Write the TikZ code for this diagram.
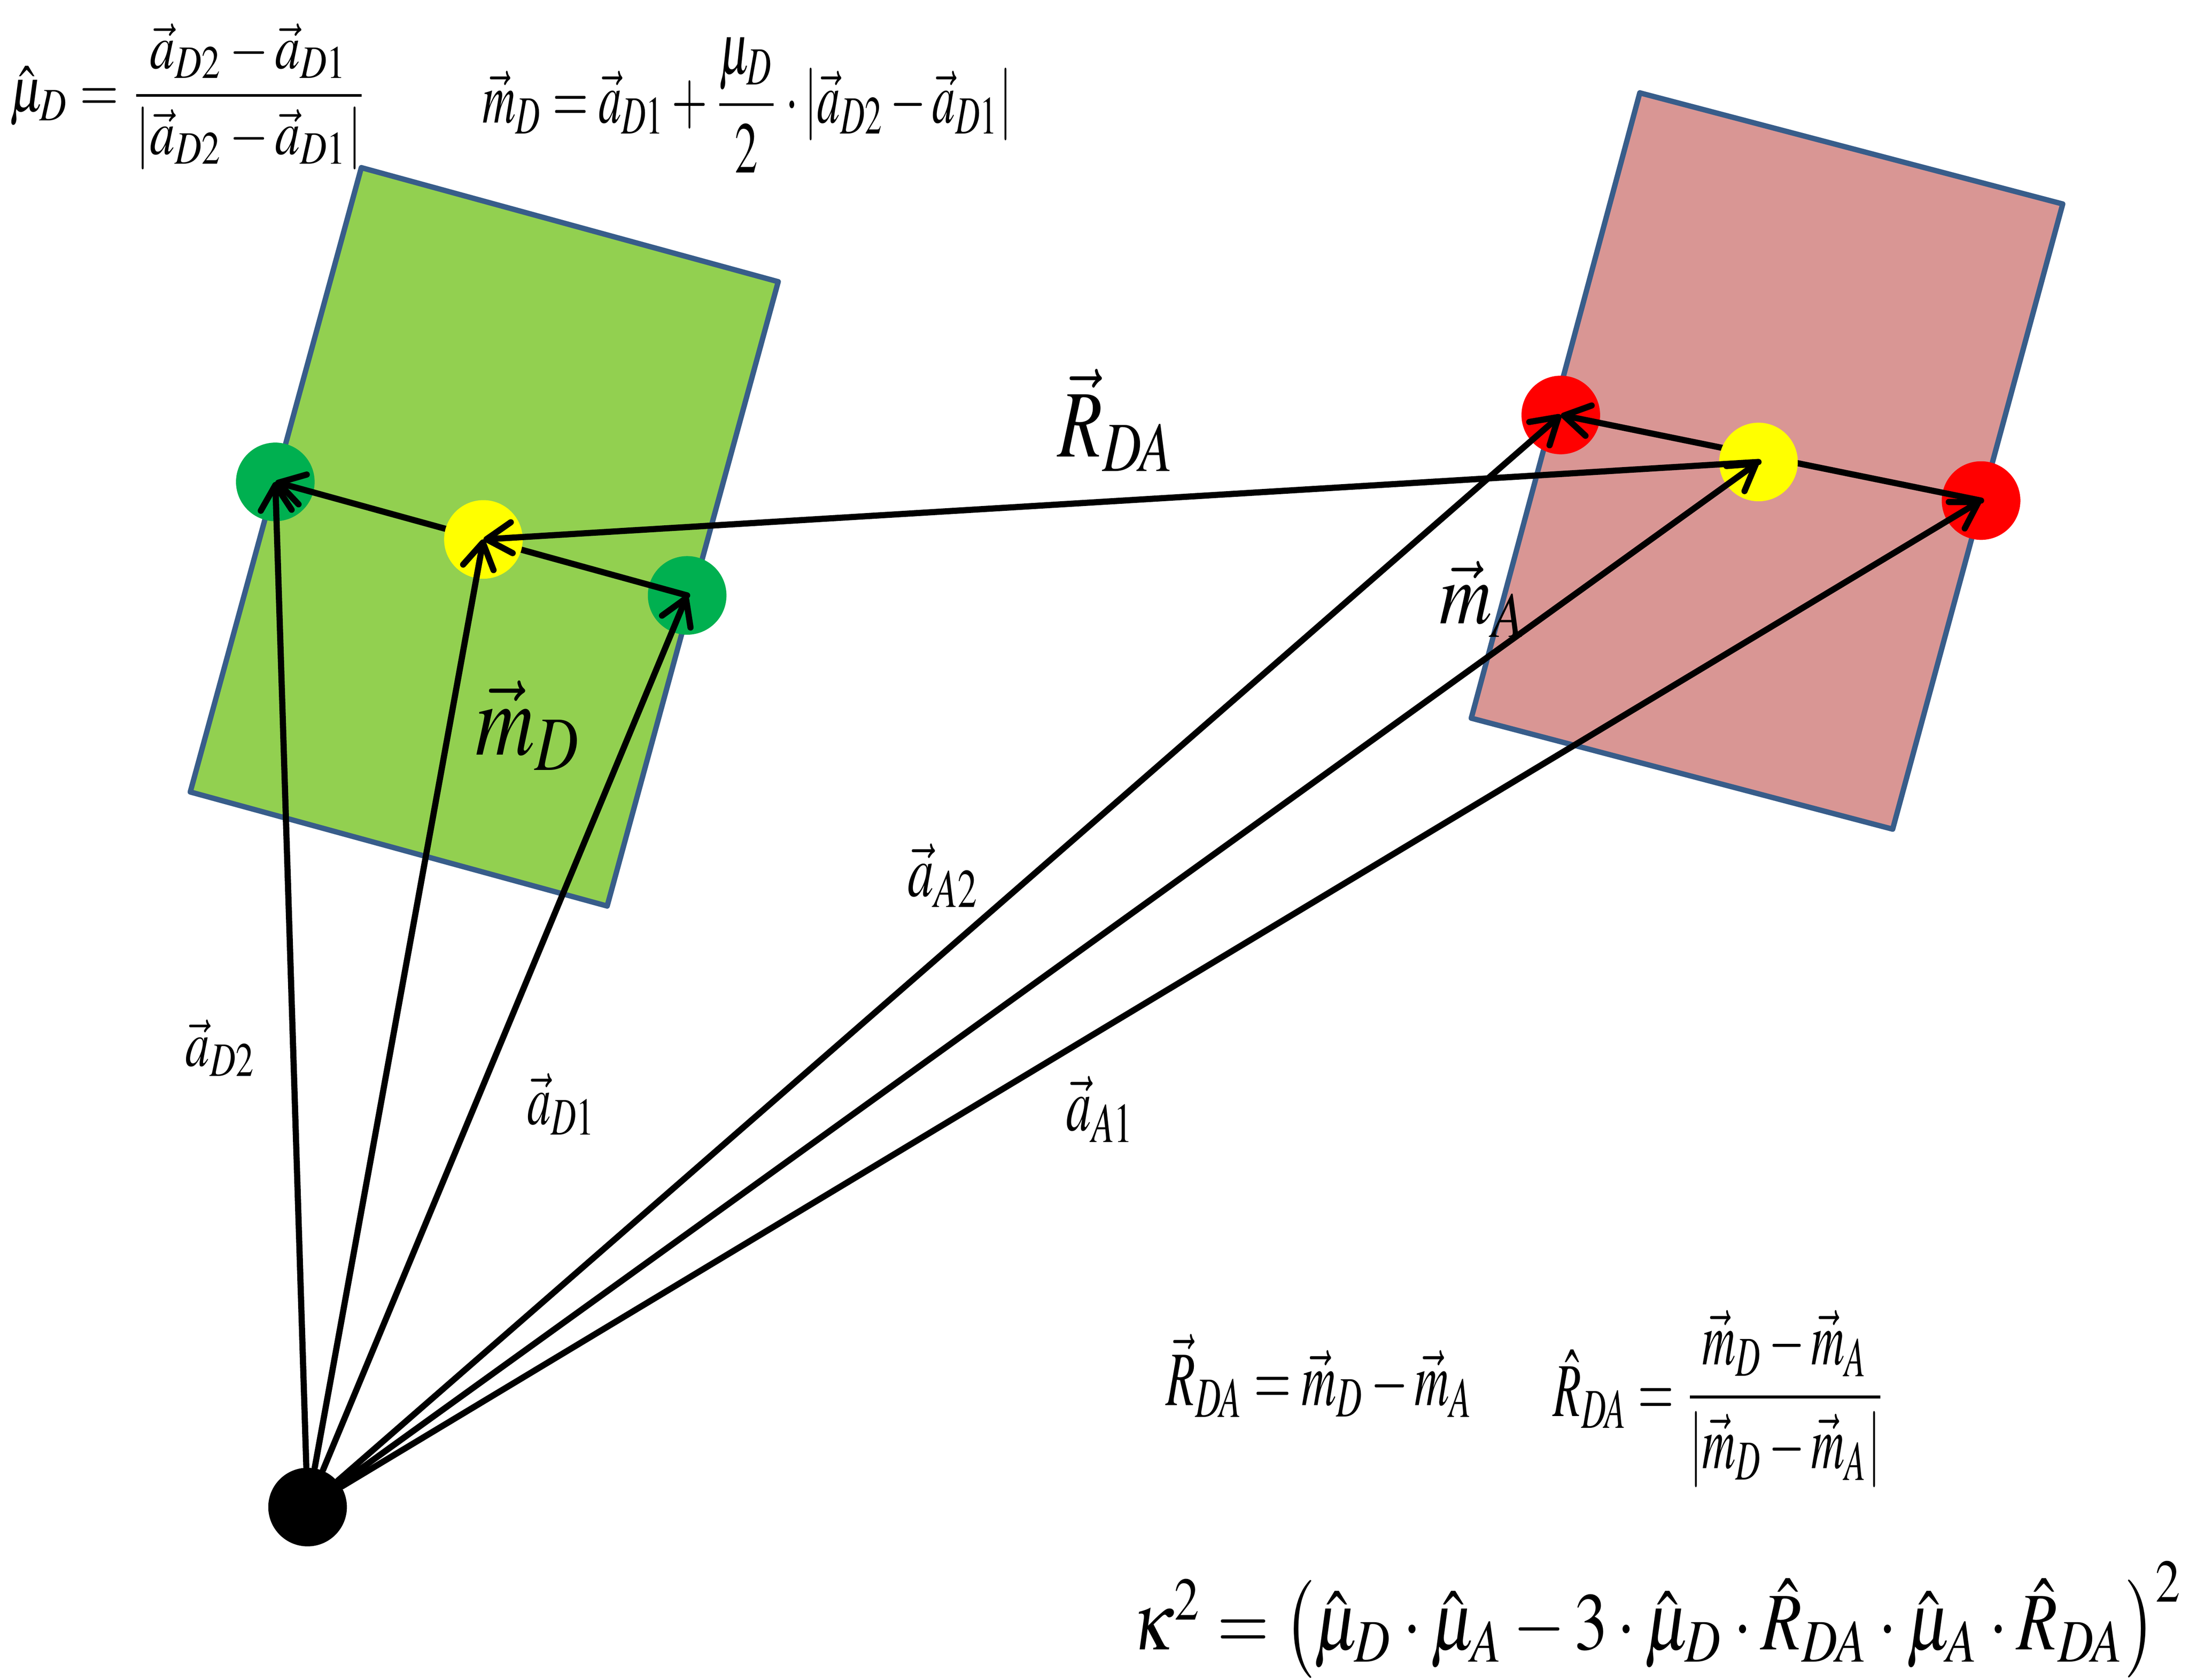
\documentclass[tikz,border=0pt]{standalone}
\usepackage{amsmath}
\usepackage{mathptmx}
\usepackage{graphicx}
\usetikzlibrary{arrows.meta}
\definecolor{rectline}{RGB}{56,93,138}
\definecolor{plategreen}{RGB}{146,208,80}
\definecolor{platepink}{RGB}{217,150,148}
\definecolor{dotgreen}{RGB}{0,176,80}
\definecolor{dotred}{RGB}{255,0,0}
\definecolor{dotyellow}{RGB}{255,255,0}
\begin{document}
\begin{tikzpicture}[x=0.01cm,y=-0.01cm,
  ball/.style={circle,inner sep=0pt,minimum size=0.56cm},
  arr/.style={line width=0.044cm,line cap=round,-{Straight Barb[length=0.18cm,width=0.22cm,round]}},
  plate/.style={draw=rectline,line width=0.038cm,line join=round},
  lbl/.style={inner sep=0pt,outer sep=0pt}]
\useasboundingbox (0,0) rectangle (1560,1197.4);
\fill[white] (0,0) rectangle (1560,1197.4);
% plates
\filldraw[plate,fill=plategreen] (257.5,119.5) -- (554.6,200.8) -- (432.7,645.8) -- (135.6,564.5) -- cycle;
\filldraw[plate,fill=platepink] (1168.6,66.2) -- (1470,145.4) -- (1348.8,591) -- (1048.5,511.9) -- cycle;
% end dots
\node[ball,fill=dotgreen] (G1) at (196.2,343.5) {};
\node[ball,fill=dotgreen] (G2) at (489.7,424.4) {};
\node[ball,fill=dotred] (R1) at (1112.3,295.8) {};
\node[ball,fill=dotred] (R2) at (1411.8,356.8) {};
% dipole vectors
\draw[arr] (G2.center) -- (G1.center);
\draw[arr] (R2.center) -- (R1.center);
% centre dots
\node[ball,fill=dotyellow] (YD) at (344.5,384.5) {};
\node[ball,fill=dotyellow] (YA) at (1253.2,329.3) {};
% origin
\node[ball,fill=black] (O) at (219.2,1074.2) {};
% connecting vector
\draw[arr] (YA.center) -- (YD.center);
% position vectors
\draw[arr] (O) -- (G1.center);
\draw[arr] (O) -- (YD.center);
\draw[arr] (O) -- (G2.center);
\draw[arr] (O) -- (R1.center);
\draw[arr] (O) -- (YA.center);
\draw[arr] (O) -- (R2.center);
% labels
\node[lbl] (fmuD) at (134.5,69) {\resizebox*{2.55cm}{1.04cm}{$\hat{\mu}_D=\dfrac{\vec{a}_{D2}-\vec{a}_{D1}}{\left|\vec{a}_{D2}-\vec{a}_{D1}\right|}$}};
\node[lbl] (fmD) at (532.5,75) {\resizebox*{3.77cm}{0.96cm}{$\vec{m}_D=\vec{a}_{D1}+\dfrac{\mu_D}{2}\cdot\left|\vec{a}_{D2}-\vec{a}_{D1}\right|$}};
\node[lbl] (lRDA) at (796,299.5) {\resizebox*{0.84cm}{0.73cm}{$\vec{R}_{DA}$}};
\node[lbl] (lmD) at (377,517) {\resizebox*{0.76cm}{0.64cm}{$\vec{m}_D$}};
\node[lbl] (lmA) at (1057.5,427) {\resizebox*{0.63cm}{0.54cm}{$\vec{m}_A$}};
\node[lbl] (laA2) at (672.5,624) {\resizebox*{0.51cm}{0.455cm}{$\vec{a}_{A2}$}};
\node[lbl] (laD2) at (157.3,747) {\resizebox*{0.5cm}{0.4cm}{$\vec{a}_{D2}$}};
\node[lbl] (laD1) at (400.3,787) {\resizebox*{0.49cm}{0.44cm}{$\vec{a}_{D1}$}};
\node[lbl] (laA1) at (784.5,790.5) {\resizebox*{0.49cm}{0.47cm}{$\vec{a}_{A1}$}};
\node[lbl] (fRDA) at (940.5,980.5) {\resizebox*{2.19cm}{0.59cm}{$\vec{R}_{DA}=\vec{m}_D-\vec{m}_A$}};
\node[lbl] (fRhat) at (1225.5,997) {\resizebox*{2.37cm}{1.26cm}{$\hat{R}_{DA}=\dfrac{\vec{m}_D-\vec{m}_A}{\left|\vec{m}_D-\vec{m}_A\right|}$}};
\node[lbl] (fkappa) at (1181.5,1154.5) {\resizebox*{7.49cm}{0.83cm}{$\kappa^2=\left(\hat{\mu}_D\cdot\hat{\mu}_A-3\cdot\hat{\mu}_D\cdot\hat{R}_{DA}\cdot\hat{\mu}_A\cdot\hat{R}_{DA}\right)^2$}};
\end{tikzpicture}
\end{document}
